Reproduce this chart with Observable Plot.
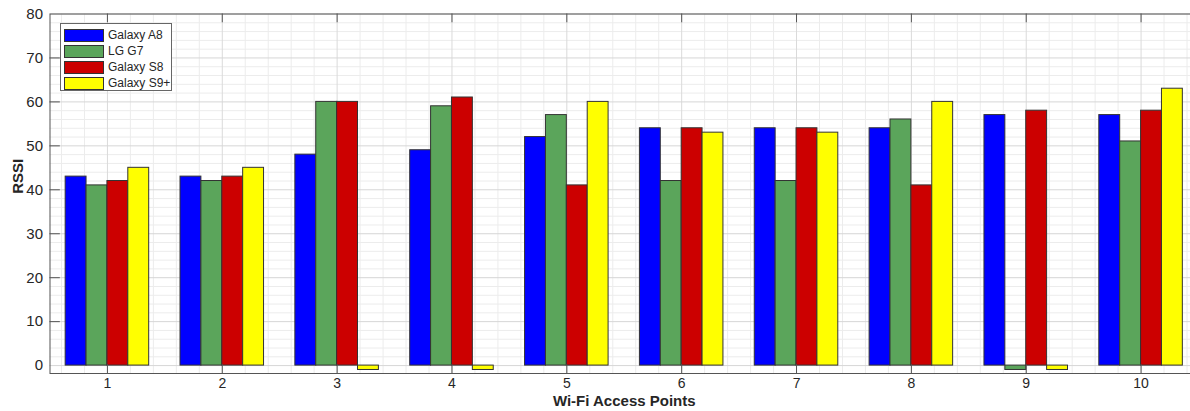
<!DOCTYPE html>
<html><head><meta charset="utf-8">
<script src="https://cdn.jsdelivr.net/npm/d3@7"></script>
<script src="https://cdn.jsdelivr.net/npm/@observablehq/plot@0.6"></script>
<style>
body{margin:0;background:#fff;font-family:"Liberation Sans",Arial,sans-serif}
#wrap{position:relative;width:1190px;height:411px;overflow:hidden}
#wrap svg{overflow:hidden}
.legend{position:absolute;left:60px;top:23px;width:112px;height:68px;border:1px solid #666;background:#fff;box-sizing:border-box;padding:3px 0 0 3px}
.row{display:flex;align-items:center;height:16px;font-size:12px;color:#262626;white-space:nowrap}
.sw{flex:none;width:38px;height:11px;border:1px solid #333;margin-right:4px}
</style></head>
<body><div id="wrap"></div>
<script>
const accessPoints = [1, 2, 3, 4, 5, 6, 7, 8, 9, 10];
const devices = ["Galaxy A8", "LG G7", "Galaxy S8", "Galaxy S9+"];
const galaxyA8 = [43, 43, 48, 49, 52, 54, 54, 54, 57, 57];
const lgG7     = [41, 42, 60, 59, 57, 42, 42, 56, -1, 51];
const galaxyS8 = [42, 43, 60, 61, 41, 54, 54, 41, 58, 58];
const galaxyS9 = [45, 45, -1, -1, 60, 53, 53, 60, -1, 63];
const colors = ["#0000ff", "#5ba55b", "#cc0000", "#ffff00"];
const yTicks = [0, 10, 20, 30, 40, 50, 60, 70, 80];

const series = [galaxyA8, lgG7, galaxyS8, galaxyS9];
const table = [];
series.forEach((vals, k) => vals.forEach((v, i) => table.push({ap: accessPoints[i], k, device: devices[k], value: v})));

const bw = 0.8 * 4 / 4.4 / 4; // MATLAB grouped bar width
const off = k => (k - 1.5) * bw;
const yMin = -1.8;

const minorX = d3.range(3, 53).filter(i => i % 5 !== 0).map(i => i / 5);
const minorY = d3.range(2, 80, 2).filter(v => v % 10 !== 0);

const chart = Plot.plot({
  width: 1190, height: 411,
  marginLeft: 49.5, marginRight: -8, marginTop: 13.5, marginBottom: 38,
  style: {fontFamily: '"Liberation Sans", Arial, sans-serif', color: "#262626", background: "#fff"},
  x: {domain: [0.5, 10.5]},
  y: {domain: [yMin, 80]},
  color: {domain: devices, range: colors},
  marks: [
    Plot.ruleX(minorX, {stroke: "#ececec", strokeWidth: 1}),
    Plot.ruleY(minorY, {stroke: "#ececec", strokeWidth: 1}),
    Plot.ruleX(accessPoints, {stroke: "#dadada", strokeWidth: 1}),
    Plot.ruleY(yTicks, {stroke: "#d6d6d6", strokeWidth: 1}),
    Plot.rectY(table, {
      x1: d => d.ap + off(d.k) - bw / 2,
      x2: d => d.ap + off(d.k) + bw / 2,
      y1: 0, y2: "value", fill: "device", stroke: "#333", strokeWidth: 1
    }),
    Plot.frame({stroke: "#555", strokeWidth: 1}),
    Plot.ruleY(yTicks.filter(v => v > 0 && v < 80), {x1: 0.5, x2: 0.59, stroke: "#555"}),
    Plot.ruleX(accessPoints, {y1: 80, y2: 78, stroke: "#555"}),
    Plot.ruleX(accessPoints, {y1: yMin, y2: yMin + 2, stroke: "#555"}),
    Plot.axisY(yTicks, {tickSize: 0, tickPadding: 7, fontSize: 15, label: null, fill: "#262626"}),
    Plot.axisX(accessPoints, {tickSize: 0, tickPadding: 5, fontSize: 14, tickFormat: d3.format("d"), label: null, fill: "#262626"}),
    Plot.text(["Wi-Fi Access Points"], {frameAnchor: "bottom", dy: 32, fontSize: 15, fontWeight: "bold", fill: "#262626"}),
    Plot.text(["RSSI"], {frameAnchor: "left", dx: -32, rotate: -90, fontSize: 15, fontWeight: "bold", fill: "#262626"})
  ]
});
const wrap = document.getElementById("wrap");
wrap.appendChild(chart);
const lg = document.createElement("div");
lg.className = "legend";
devices.forEach((d, i) => {
  const r = document.createElement("div");
  r.className = "row";
  r.innerHTML = `<span class="sw" style="background:${colors[i]}"></span><span>${d}</span>`;
  lg.appendChild(r);
});
wrap.appendChild(lg);
</script></body></html>
